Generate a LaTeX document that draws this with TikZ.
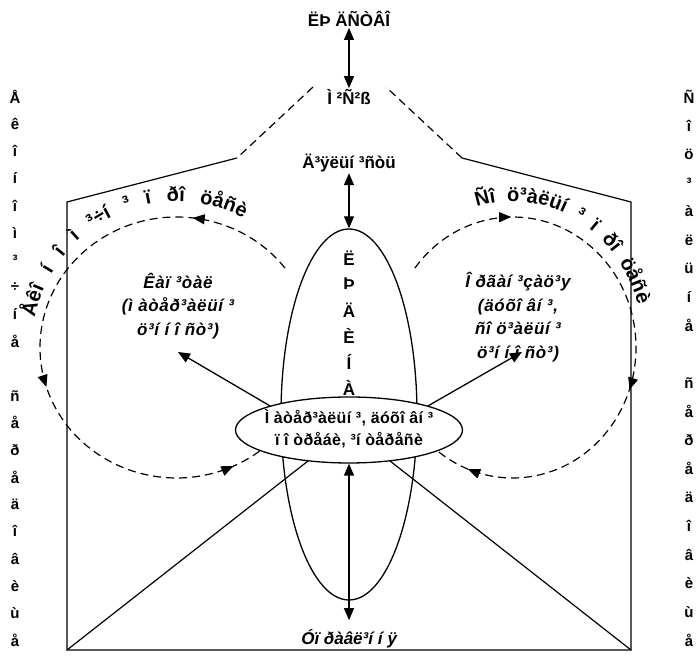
\documentclass[tikz,border=0pt]{standalone}
\usepackage{fontspec}
\setmainfont{Liberation Sans}
\usetikzlibrary{arrows.meta,shapes.geometric,decorations.markings,decorations.text}

\tikzset{
    tri/.tip={Triangle[length=12pt,width=10pt]},
    txt/.style={font=\bfseries\fontsize{17}{20}\selectfont, inner sep=1pt},
    itxt/.style={font=\bfseries\itshape\fontsize{17}{23.5}\selectfont\addfontfeature{LetterSpace=4},
        align=center, inner sep=1pt},
    letter/.style={font=\bfseries\fontsize{15}{17}\selectfont, inner sep=0pt},
    twoway/.style={{tri}-{tri}, line width=1.3pt},
    oneway/.style={-{tri}, line width=1.3pt},
    frame/.style={line width=1.2pt},
    dashline/.style={line width=1.2pt, dash pattern=on 8pt off 5pt},
    flow/.style args={#1/#2/#3}{dashline, postaction={decorate, decoration={markings,
        mark=at position #1 with {\arrow{tri}},
        mark=at position #2 with {\arrow{tri}},
        mark=at position #3 with {\arrow{tri}}}}},
    oval/.style={draw, ellipse, line width=1.3pt, inner sep=0pt},
    arctext/.style={decorate, decoration={text along path, text align=fit to path stretching spaces,
        text={|\bfseries\fontsize{20}{20}\selectfont|#1}}}
}

\begin{document}
\begin{tikzpicture}[x=1pt,y=1pt]
    \useasboundingbox (0,0) rectangle (699,666);

    % Top of the scheme
    \node[txt] (mankind) at (349,647) {ËÞ ÄÑÒÂÎ};
    \node[txt] (mission) at (349,569) {Ì ²Ñ²ß};
    \draw[twoway] (mankind) -- (mission);

    % Frame
    \draw[dashline] (313,579) -- (237,508);
    \draw[frame] (237,508) -- (67,464) -- (67,16) -- (631,16) -- (631,464) -- (462,508);
    \draw[dashline] (462,508) -- (386,579);
    \draw[frame] (67,16) -- (308,205);
    \draw[frame] (631,16) -- (390,205);

    \node[txt] (activity) at (349,503) {Ä³ÿëüí ³ñòü};

    % Processes around the person
    \draw[flow={0.17/0.59/0.95}] ([shift={(37.5:136.6pt and 130.5pt)}]176.6,318.5)
        arc[start angle=37.5, end angle=308, x radius=136.6pt, y radius=130.5pt];
    \draw[flow={0.19/0.60/0.94}] ([shift={(142.5:123.3pt and 130.5pt)}]512.7,318.5)
        arc[start angle=142.5, end angle=-127.5, x radius=123.3pt, y radius=130.5pt];
    \path[arctext={Åêî í î ì ³÷í ³ ï ðî öåñè}] ([shift={(168:145pt and 146pt)}]176.6,318.5)
        arc[start angle=168, end angle=62.5, x radius=145pt, y radius=146pt];
    \path[arctext={Ñî ö³àëüí ³ ï ðî öåñè}] ([shift={(106:131pt and 146pt)}]512.7,318.5)
        arc[start angle=106, end angle=17, x radius=131pt, y radius=146pt];

    % Person
    \node[oval, minimum width=136pt, minimum height=371pt] (person) at (349,251.5) {};
    \draw[twoway] (activity) -- (person.north);
    \foreach \ch [count=\i] in {Ë,Þ,Ä,È,Í,À}
        \node[txt] (p\i) at (349,434-26*\i) {\ch};

    % Needs and interests
    \node[oval, fill=white, minimum width=227pt, minimum height=66pt] (needs) at (349,236) {};
    \node[font=\bfseries\fontsize{16}{22}\selectfont\addfontfeature{LetterSpace=2}, align=center]
        (needstext) at (349,237) {Ì àòåð³àëüí ³, äóõî âí ³\\ï î òðåáè, ³í òåðåñè};

    \node[itxt] (capital) at (178,360) {Êàï ³òàë\\(ì àòåð³àëüí ³\\ö³í í î ñò³)};
    \node[itxt] (organ) at (518,349) {Î ðãàí ³çàö³y\\(äóõî âí ³,\\ñî ö³àëüí ³\\ö³í í î ñò³)};
    \coordinate (captip) at (178,314);
    \coordinate (orgtip) at (522,314);
    \draw[oneway] (needs.163) -- (captip);
    \draw[oneway] (needs.17) -- (orgtip);

    \node[font=\bfseries\itshape\fontsize{17}{20}\selectfont] (control) at (349,27) {Óï ðàâë³í í ÿ};
    \draw[twoway, shorten >=6pt] (needs.south) -- (control);

    % Side columns
    \foreach \ch [count=\i] in {Å,ê,î,í,î,ì,³,÷,í,å}
        \node[letter] (eco\i) at (15,596.15-27.15*\i) {\ch};
    \foreach \ch [count=\i from 12] in {ñ,å,ð,å,ä,î,â,è,ù,å}
        \node[letter] (eco\i) at (15,596.15-27.15*\i) {\ch};
    \foreach \ch [count=\i] in {Ñ,î,ö,³,à,ë,ü,í,å}
        \node[letter] (soc\i) at (689,597.6-28.6*\i) {\ch};
    \foreach \ch [count=\i from 11] in {ñ,å,ð,å,ä,î,â,è,ù,å}
        \node[letter] (soc\i) at (689,597.6-28.6*\i) {\ch};
\end{tikzpicture}
\end{document}
